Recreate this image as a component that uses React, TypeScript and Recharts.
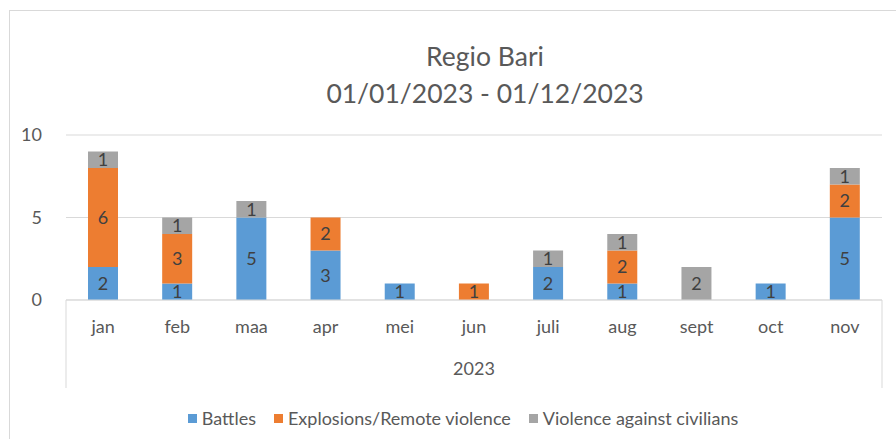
import { BarChart, Bar, XAxis, YAxis, CartesianGrid, Legend, LabelList } from 'recharts';

// values
const months = ['jan', 'feb', 'maa', 'apr', 'mei', 'jun', 'juli', 'aug', 'sept', 'oct', 'nov'];
const battles = [2, 1, 5, 3, 1, 0, 2, 1, 0, 1, 5];
const explosions = [6, 3, 0, 2, 0, 1, 0, 2, 0, 0, 2];
const violence = [1, 1, 1, 0, 0, 0, 1, 1, 2, 0, 1];
const yTicks = [0, 5, 10];

const series = [
  { key: 'battles', name: 'Battles', color: '#5b9bd5' },
  { key: 'explosions', name: 'Explosions/Remote violence', color: '#ed7d31' },
  { key: 'violence', name: 'Violence against civilians', color: '#a5a5a5' },
];

const data = months.map((m, i) => ({
  month: m,
  year: '2023',
  battles: battles[i],
  explosions: explosions[i],
  violence: violence[i],
}));

const FONT = 'Lato, "Open Sans", sans-serif';
const TEXT = '#595959';
const LINE = '#d9d9d9';

const YearTick = (props: any) => {
  const { x, y, payload } = props;
  const half = payload?.offset ?? 408;
  return (
    <g>
      <line x1={x - half} x2={x - half} y1={y - 44} y2={y + 44} stroke={LINE} />
      <line x1={x + half} x2={x + half} y1={y - 44} y2={y + 44} stroke={LINE} />
      <text x={x} y={y + 31} textAnchor="middle" fill={TEXT} fontSize={18} fontFamily={FONT}>
        {payload.value}
      </text>
    </g>
  );
};

const LegendContent = () => (
  <div
    style={{
      height: 42,
      paddingTop: 18,
      boxSizing: 'border-box',
      display: 'flex',
      justifyContent: 'center',
      alignItems: 'center',
      fontFamily: FONT,
      fontSize: 18,
      color: TEXT,
      paddingLeft: 52,
    }}
  >
    {series.map((s) => (
      <span key={s.key} style={{ display: 'flex', alignItems: 'center', marginRight: 18 }}>
        <span style={{ width: 9, height: 9, background: s.color, marginRight: 5, display: 'inline-block' }} />
        {s.name}
      </span>
    ))}
  </div>
);

export default function App() {
  return (
    <div style={{ position: 'absolute', left: 0, top: 0, width: 896, height: 439, overflow: 'hidden', background: '#fff' }}>
      <div
        style={{
          position: 'absolute',
          left: 9,
          top: 10,
          width: 900,
          height: 460,
          border: `1px solid ${LINE}`,
        }}
      />
      <div
        style={{
          position: 'absolute',
          left: 0,
          width: 970,
          top: 38,
          textAlign: 'center',
          fontFamily: FONT,
          fontSize: 26.5,
          lineHeight: '37px',
          color: TEXT,
        }}
      >
        Regio Bari
        <br />
        01/01/2023 - 01/12/2023
      </div>
      <div style={{ position: 'absolute', left: 0, top: 0 }}>
        <BarChart
          width={896}
          height={439}
          data={data}
          margin={{ top: 135, right: 14, left: 10, bottom: 9 }}
          barSize={30}
        >
          <CartesianGrid vertical={false} stroke={LINE} />
          <XAxis
            dataKey="month"
            height={44}
            axisLine={{ stroke: LINE }}
            tickLine={false}
            tick={{ fill: TEXT, fontSize: 18, fontFamily: FONT }}
            tickMargin={14}
          />
          <XAxis
            xAxisId="year"
            dataKey="year"
            allowDuplicatedCategory={false}
            height={44}
            axisLine={false}
            tickLine={false}
            tickSize={0}
            tickMargin={0}
            tick={<YearTick />}
          />
          <YAxis
            domain={[0, 10]}
            ticks={yTicks}
            width={56}
            axisLine={false}
            tickLine={false}
            tickMargin={18}
            tick={{ fill: TEXT, fontSize: 18, fontFamily: FONT }}
          />
          <Legend verticalAlign="bottom" content={<LegendContent />} />
          {series.map((s) => (
            <Bar key={s.key} dataKey={s.key} name={s.name} stackId="a" fill={s.color} isAnimationActive={false}>
              <LabelList
                dataKey={s.key}
                position="center"
                fill="#404040"
                fontSize={18}
                fontFamily={FONT}
                formatter={(v: any) => (v ? v : '')}
              />
            </Bar>
          ))}
        </BarChart>
      </div>
    </div>
  );
}
